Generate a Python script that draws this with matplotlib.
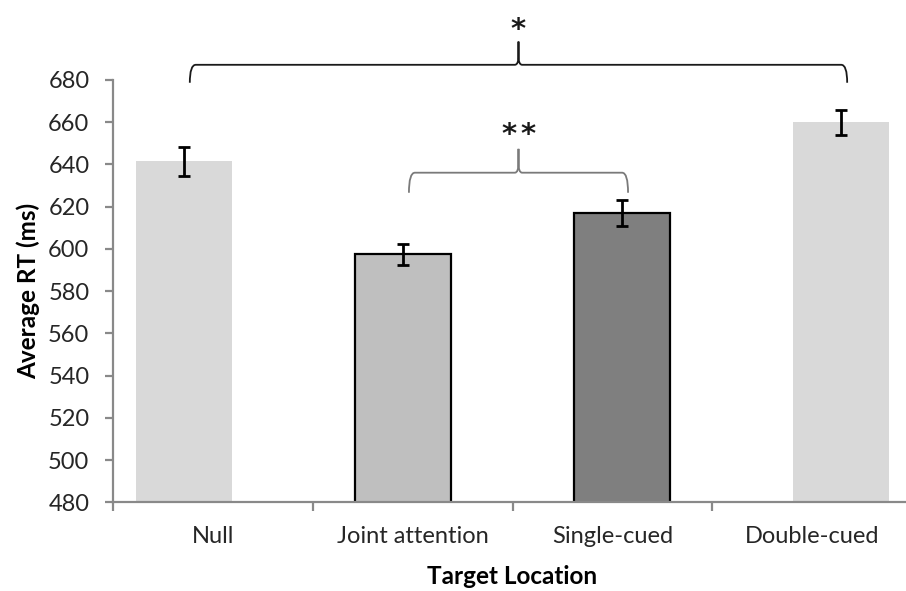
import matplotlib.pyplot as plt
import numpy as np
from matplotlib.path import Path
from matplotlib.patches import PathPatch

categories = ['Null', 'Joint attention', 'Single-cued', 'Double-cued']
mean_rt = [641.5, 597.5, 617.0, 660.0]
err_rt = [7.0, 5.0, 6.0, 6.0]
colors = ['#d9d9d9', '#bfbfbf', '#7f7f7f', '#d9d9d9']
edges = ['none', 'black', 'black', 'none']
yticks = list(range(480, 681, 20))

plt.rcParams['font.family'] = ['Lato', 'DejaVu Sans']

fig = plt.figure(figsize=(9.06, 5.91), dpi=100)
ax = fig.add_axes([113 / 906, 88.7 / 591, 799 / 906, 422.3 / 591])

# excel style clustered bars: each series offset inside its category
n = len(categories)
step = 0.097
width = 0.48
xs = np.arange(n) + (np.arange(n) - (n - 1) / 2) * step

for i in range(n):
    ax.bar(xs[i], mean_rt[i], width, color=colors[i], edgecolor=edges[i],
           linewidth=1.6 if edges[i] != 'none' else 0, zorder=2)
ax.errorbar(xs, mean_rt, yerr=err_rt, fmt='none', ecolor='black',
            elinewidth=2, capsize=4.5, capthick=2, zorder=3)

ax.set_xlim(-0.5, 3.5)
ax.set_ylim(480, 680)
ax.set_yticks(yticks)
ax.set_xticks(np.arange(-0.5, n, 1.0))
ax.set_xticklabels([])
ax.set_xticks(np.arange(n), minor=True)
ax.set_xticklabels(categories, minor=True)

axis_grey = '#898989'
for s in ['top', 'right']:
    ax.spines[s].set_visible(False)
for s in ['left', 'bottom']:
    ax.spines[s].set_color(axis_grey)
    ax.spines[s].set_linewidth(1.6)
ax.tick_params(axis='y', direction='out', length=6, width=1.6, color=axis_grey,
               labelsize=17, pad=11, labelcolor='#262626')
ax.tick_params(axis='x', which='major', direction='out', length=6.5, width=1.6,
               color=axis_grey)
ax.tick_params(axis='x', which='minor', length=0, labelsize=17, pad=17,
               labelcolor='#262626')

ax.set_ylabel('Average RT (ms)', fontsize=17.5, fontweight='bold', labelpad=6)
ax.set_xlabel('Target Location', fontsize=17.5, fontweight='bold', labelpad=13)


def brace(x0, x1, y_end, y_line, y_tip, color, lw):
    dx = 0.03
    dy = (y_line - y_end) * 0.5
    xm = (x0 + x1) / 2
    verts = [(x0, y_end), (x0, y_line), (x0 + dx, y_line),
             (xm - dx * 0.6, y_line),
             (xm, y_line), (xm, y_line + dy), (xm, y_tip),
             (xm, y_line + dy), (xm, y_line), (xm + dx * 0.6, y_line),
             (x1 - dx, y_line), (x1, y_line), (x1, y_end)]
    codes = [Path.MOVETO, Path.CURVE3, Path.CURVE3,
             Path.LINETO,
             Path.CURVE3, Path.CURVE3, Path.LINETO,
             Path.LINETO, Path.CURVE3, Path.CURVE3,
             Path.LINETO, Path.CURVE3, Path.CURVE3]
    ax.add_patch(PathPatch(Path(verts, codes), fill=False, edgecolor=color,
                           linewidth=lw, clip_on=False, zorder=4))
    return xm


star = dict(ha='center', va='baseline', fontsize=21, color='#1a1a1a',
            family='DejaVu Sans', fontweight='bold', clip_on=False)
xm = brace(xs[0] + 0.03, xs[3] + 0.03, 678.7, 687.2, 698.2, '#1a1a1a', 1.3)
ax.text(xm, 700, '*', **star)
xm = brace(xs[1] + 0.03, xs[2] + 0.03, 626.6, 636.1, 647.4, '#7a7a7a', 1.3)
ax.text(xm - 0.048, 650, '*', **star)
ax.text(xm + 0.048, 650, '*', **star)

fig.savefig('out.png', dpi=100)
